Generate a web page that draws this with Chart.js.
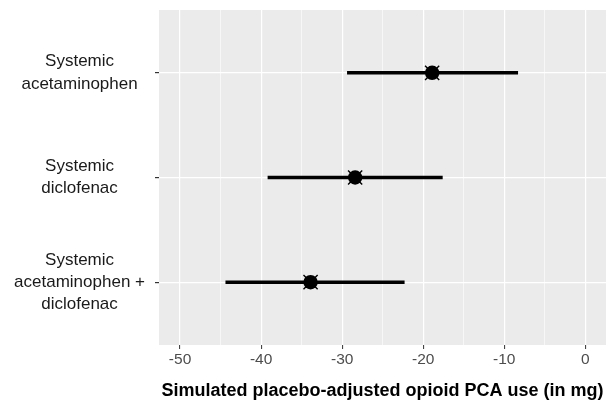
<!DOCTYPE html>
<html><head><meta charset="utf-8">
<script src="https://cdn.jsdelivr.net/npm/chart.js@4/dist/chart.umd.min.js"></script>
<style>html,body{margin:0;padding:0;background:#fff}#wrap{width:609px;height:405px}</style>
</head><body><div id="wrap"><canvas id="c" width="609" height="405"></canvas></div>
<script>
const categories = [["Systemic","acetaminophen"],["Systemic","diclofenac"],["Systemic","acetaminophen +","diclofenac"]];
const estimates = [-18.9, -28.4, -33.9];
const lower = [-29.4, -39.2, -44.4];
const upper = [-8.3, -17.6, -22.3];
const xTickLabels = [-50, -40, -30, -20, -10, 0];
const xMinorGrid = [-45, -35, -25, -15, -5];
const xTitle = "Simulated placebo-adjusted opioid PCA use (in mg)";

const FONT = "'Liberation Sans', Arial, Helvetica, sans-serif";

const panelBg = {
  id: 'panelBg',
  beforeDraw(chart) {
    const {ctx, chartArea: a} = chart;
    ctx.save();
    ctx.fillStyle = '#EBEBEB';
    ctx.fillRect(a.left, a.top, a.right - a.left, a.bottom - a.top);
    ctx.restore();
  }
};

const rows = categories.map((c, i) => i + 1);

const errorBars = categories.map((c, i) => ({
  type: 'line',
  data: [{x: lower[i], y: rows[i]}, {x: upper[i], y: rows[i]}],
  borderColor: '#000',
  borderWidth: 3.5,
  pointRadius: 0,
  showLine: true,
  order: 2
}));

const pointsData = estimates.map((v, i) => ({x: v, y: rows[i]}));

const datasets = [
  {type: 'scatter', data: pointsData, pointStyle: 'circle', pointRadius: 7.2,
   backgroundColor: '#000', borderColor: '#000', borderWidth: 0, order: 0},
  {type: 'scatter', data: pointsData, pointStyle: 'crossRot', pointRadius: 10,
   borderColor: '#000', borderWidth: 1.4, order: 1},
  ...errorBars
];

const allX = [...xMinorGrid, ...xTickLabels].sort((a, b) => a - b);

new Chart(document.getElementById('c'), {
  type: 'scatter',
  data: {datasets},
  options: {
    responsive: false,
    animation: false,
    devicePixelRatio: 1,
    layout: {autoPadding: false, padding: {top: 10, right: 3, left: 0, bottom: 0}},
    plugins: {legend: {display: false}, tooltip: {enabled: false}},
    scales: {
      x: {
        type: 'linear',
        min: -52.6, max: 2.55,
        afterBuildTicks: s => { s.ticks = allX.map(v => ({value: v})); },
        afterFit: s => { s.height = 60; s.paddingLeft = 0; s.paddingRight = 0; },
        border: {display: false},
        grid: {
          color: '#FFFFFF',
          lineWidth: c => (xTickLabels.includes(c.tick.value) ? 1.2 : 0.6),
          tickColor: c => (xTickLabels.includes(c.tick.value) ? '#333333' : 'rgba(0,0,0,0)'),
          tickLength: 4,
          tickWidth: 1
        },
        ticks: {
          autoSkip: false,
          maxRotation: 0,
          padding: 1,
          color: '#4D4D4D',
          font: {family: FONT, size: 15.5},
          callback: v => (xTickLabels.includes(v) ? String(v) : '')
        },
        title: {
          display: true,
          text: xTitle,
          color: '#000',
          font: {family: FONT, size: 18, weight: 'bold'},
          padding: {top: 0, bottom: 3}
        }
      },
      y: {
        type: 'linear',
        reverse: true,
        min: 0.4, max: 3.6,
        afterBuildTicks: s => { s.ticks = rows.map(v => ({value: v})); },
        afterFit: s => { s.width = 159; s.paddingTop = 0; s.paddingBottom = 0; },
        border: {display: false},
        grid: {
          color: '#FFFFFF',
          lineWidth: 1.2,
          tickColor: '#333333',
          tickLength: 4
        },
        ticks: {
          autoSkip: false,
          padding: 10,
          crossAlign: 'center',
          color: '#1A1A1A',
          font: {family: FONT, size: 17, lineHeight: 1.3},
          callback: (v, i) => categories[i]
        }
      }
    }
  },
  plugins: [panelBg]
});
</script>
</body></html>
